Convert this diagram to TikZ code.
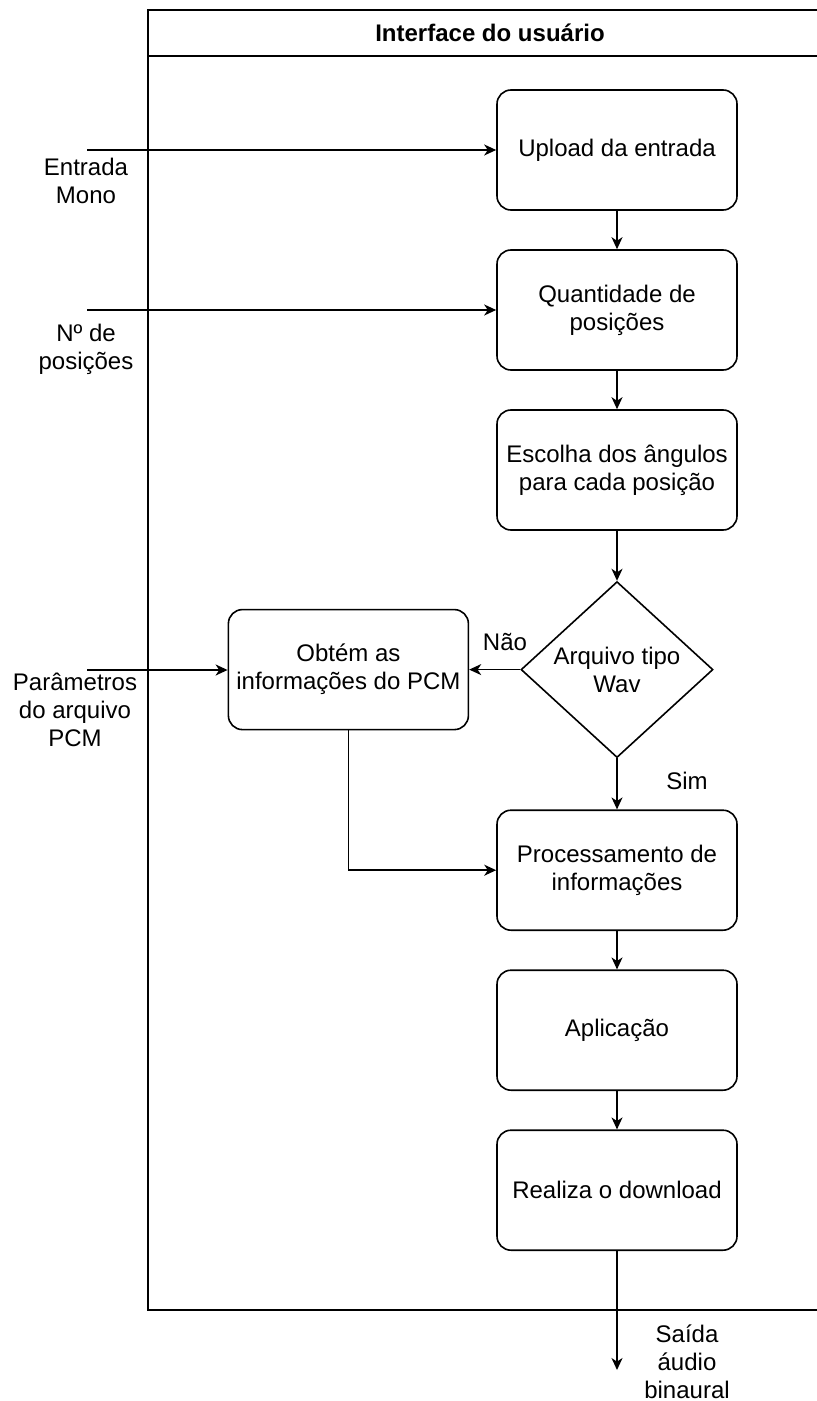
\documentclass[tikz,border=0pt]{standalone}
\usepackage{fontspec}
\setmainfont{Liberation Sans}
\usetikzlibrary{positioning,shapes.geometric,arrows.meta}

\begin{document}
\begin{tikzpicture}[
  x=0.5pt, y=-0.5pt,
  block/.style={rectangle, draw, rounded corners=7pt, minimum width=120pt, minimum height=60pt, align=center},
  decision/.style={diamond, draw, aspect=1.2, inner sep=0pt, minimum width=96pt, minimum height=88pt, align=center},
  lbl/.style={align=center},
  node distance=19.2pt,
  font=\fontsize{12}{14}\selectfont,
  line width=0.8pt,
  >={Stealth[length=6pt,width=5.5pt,inset=1.8pt]}
]
\useasboundingbox (0,0) rectangle (817,1401);

% container
\draw (148,10) rectangle (832,1310);
\draw (148,56) -- (832,56);
\node[font=\fontsize{12}{14}\selectfont\bfseries] (title) at (490,33) {Interface do usuário};

% main column
\node[block] (upload) at (617,150) {Upload da entrada};
\node[block, below=of upload] (qtd) {Quantidade de\\posições};
\node[block, below=of qtd] (angulos) {Escolha dos ângulos\\para cada posição};
\node[decision, below=25pt of angulos] (wav) {Arquivo tipo\\Wav};
\node[block, left=25.5pt of wav] (pcm) {Obtém as\\informações do PCM};
\node[block, below=25.5pt of wav] (proc) {Processamento de\\informações};
\node[block, below=of proc] (aplic) {Aplicação};
\node[block, below=of aplic] (download) {Realiza o download};

% inputs and output
\coordinate (inMono) at (87,150);
\coordinate (inPos) at (87,310);
\coordinate (inPcm) at (87,670);
\coordinate (outBin) at (617,1370);
\node[lbl] (lblMono) at (86,181) {Entrada\\Mono};
\node[lbl] (lblPos) at (86,349) {Nº de\\posições};
\node[lbl] (lblPcm) at (75,710) {Parâmetros\\do arquivo\\PCM};
\node[lbl] (lblOut) at (687,1362) {Saída\\áudio\\binaural};
\node (nao) at (505,642) {Não};
\node (sim) at (687,781) {Sim};

\draw[->] (inMono) -- (inMono -| upload.west);
\draw[->] (inPos) -- (inPos -| qtd.west);
\draw[->] (inPcm) -- (inPcm -| pcm.west);
\draw[->] (upload) -- (qtd);
\draw[->] (qtd) -- (angulos);
\draw[->] (angulos) -- (wav);
\draw[->] (wav) -- (pcm);
\draw[->] (wav) -- (proc);
\draw[->] (pcm.south) |- (proc.west);
\draw[->] (proc) -- (aplic);
\draw[->] (aplic) -- (download);
\draw[->] (download) -- (outBin);
\end{tikzpicture}
\end{document}
